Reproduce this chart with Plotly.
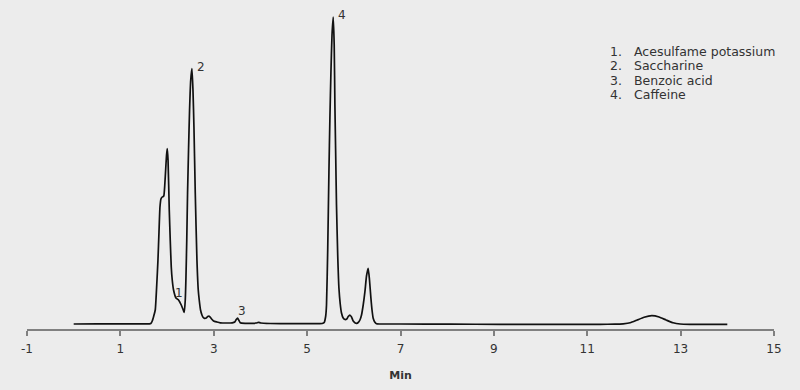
import plotly.graph_objects as go

# Chromatogram trace (time in min, signal in arbitrary units)
time_min = [
    0.0, 0.5, 1.0, 1.5, 1.62,
    1.651, 1.683, 1.715, 1.747, 1.779, 1.805, 1.827, 1.848, 1.869, 1.897, 1.929,
    1.951, 1.972, 1.989, 2.004, 2.021, 2.047, 2.068, 2.090, 2.111, 2.139, 2.191,
    2.246, 2.304, 2.347, 2.368, 2.390, 2.405, 2.422, 2.439, 2.460, 2.482, 2.507,
    2.533, 2.555, 2.576, 2.604, 2.640, 2.668, 2.689, 2.717, 2.747, 2.775, 2.803,
    2.839, 2.871, 2.904, 2.946, 2.996, 3.068, 3.139, 3.283, 3.396, 3.450, 3.482,
    3.510, 3.535, 3.567, 3.674, 3.824, 3.910, 3.959, 4.006, 4.210, 4.638, 5.066,
    5.323, 5.366, 5.398, 5.415, 5.441, 5.467, 5.488, 5.510, 5.533, 5.559, 5.580,
    5.595, 5.612, 5.629, 5.655, 5.681, 5.709, 5.736, 5.773, 5.809, 5.848, 5.880,
    5.916, 5.951, 5.987, 6.030, 6.058, 6.094, 6.131, 6.165, 6.201, 6.238, 6.272,
    6.308, 6.336, 6.366, 6.390, 6.415, 6.448, 6.486, 6.565, 7.0, 8.064, 9.135,
    10.206, 11.276, 11.597, 11.769, 11.919, 12.069, 12.218, 12.384, 12.539, 12.689,
    12.839, 12.989, 13.203, 14.0,
]
signal = [
    0.0, 0.1, 0.2, 0.1, 0.2,
    0.5, 3.0, 8.0, 14.0, 39.0, 64.0, 92.0, 117.0, 125.0, 127.0, 128.0,
    139.0, 156.0, 169.0, 175.5, 164.0, 114.0, 84.0, 57.0, 44.0, 34.0, 26.0,
    24.0, 19.0, 14.0, 11.5, 24.0, 47.0, 84.0, 131.0, 174.0, 214.0, 244.0,
    255.5, 234.0, 197.0, 131.0, 64.0, 34.0, 24.0, 14.0, 9.0, 6.5, 5.7,
    6.0, 7.5, 7.8, 5.5, 3.0, 2.0, 1.2, 1.0, 1.2, 2.0, 4.5,
    6.0, 4.0, 1.3, 0.7, 0.7, 1.0, 1.7, 1.0, 0.5, 0.3, 0.3,
    0.5, 1.5, 8.0, 19.0, 74.0, 152.0, 206.0, 252.0, 289.0, 307.0, 279.0,
    219.0, 169.0, 119.0, 69.0, 36.0, 20.0, 11.0, 6.0, 4.5, 5.0, 7.5,
    9.0, 7.0, 3.0, 1.0, 0.7, 1.5, 4.0, 9.0, 19.0, 32.3, 48.0,
    55.7, 44.0, 26.0, 14.0, 5.7, 2.0, 0.2, 0.0, 0.0, -0.2, -0.3,
    -0.3, -0.3, -0.2, 0.2, 1.2, 4.0, 6.8, 8.3, 7.0, 4.0,
    1.2, 0.0, -0.3, -0.3,
]

# Peak labels (text and where the label sits)
peak_labels = ["1", "2", "3", "4"]
label_time = [2.261, 2.732, 3.604, 5.751]
label_signal = [31.0, 257.3, 13.3, 309.0]

# Compound list
legend_numbers = ["1.", "2.", "3.", "4."]
legend_names = ["Acesulfame potassium", "Saccharine", "Benzoic acid", "Caffeine"]

x_ticks = [-1, 1, 3, 5, 7, 9, 11, 13, 15]

BG = "#ececec"
FONT = "DejaVu Sans"
TXT = "#333333"

fig = go.Figure()
fig.add_trace(go.Scatter(
    x=time_min, y=signal, mode="lines",
    line=dict(color="#111111", width=1.7, shape="spline", smoothing=0.5),
    hoverinfo="skip", showlegend=False,
))

annotations = []
for t, xv, yv in zip(peak_labels, label_time, label_signal):
    annotations.append(dict(
        x=xv, y=yv, xref="x", yref="y", text=t, showarrow=False,
        xanchor="center", yanchor="middle",
        font=dict(family=FONT, size=12, color=TXT),
    ))

row_y0 = (329 - 51.7) / 319.0
row_step = 14.2 / 319.0
for i, (num, name) in enumerate(zip(legend_numbers, legend_names)):
    yy = row_y0 - i * row_step
    annotations.append(dict(
        x=0.7775, y=yy, xref="paper", yref="paper", text=num, showarrow=False,
        xanchor="left", yanchor="middle",
        font=dict(family=FONT, size=12.5, color=TXT),
    ))
    annotations.append(dict(
        x=0.8105, y=yy, xref="paper", yref="paper", text=name, showarrow=False,
        xanchor="left", yanchor="middle",
        font=dict(family=FONT, size=12.5, color=TXT),
    ))

fig.update_layout(
    width=800, height=390, autosize=False,
    margin=dict(l=27, r=26, t=10, b=61),
    paper_bgcolor=BG, plot_bgcolor=BG,
    annotations=annotations,
    xaxis=dict(
        range=[-1, 15], tickmode="array", tickvals=x_ticks,
        ticktext=[str(v) for v in x_ticks],
        showline=True, linecolor="#808080", linewidth=1.5,
        ticks="outside", ticklen=5, tickwidth=1.5, tickcolor="#808080",
        ticklabelstandoff=3,
        showgrid=False, zeroline=False,
        tickfont=dict(family=FONT, size=12, color=TXT),
        title=dict(text="<b>Min</b>", font=dict(family=FONT, size=11, color=TXT), standoff=16),
    ),
    yaxis=dict(range=[-5, 314], visible=False, showgrid=False, zeroline=False),
)

fig.write_html("out.html")
